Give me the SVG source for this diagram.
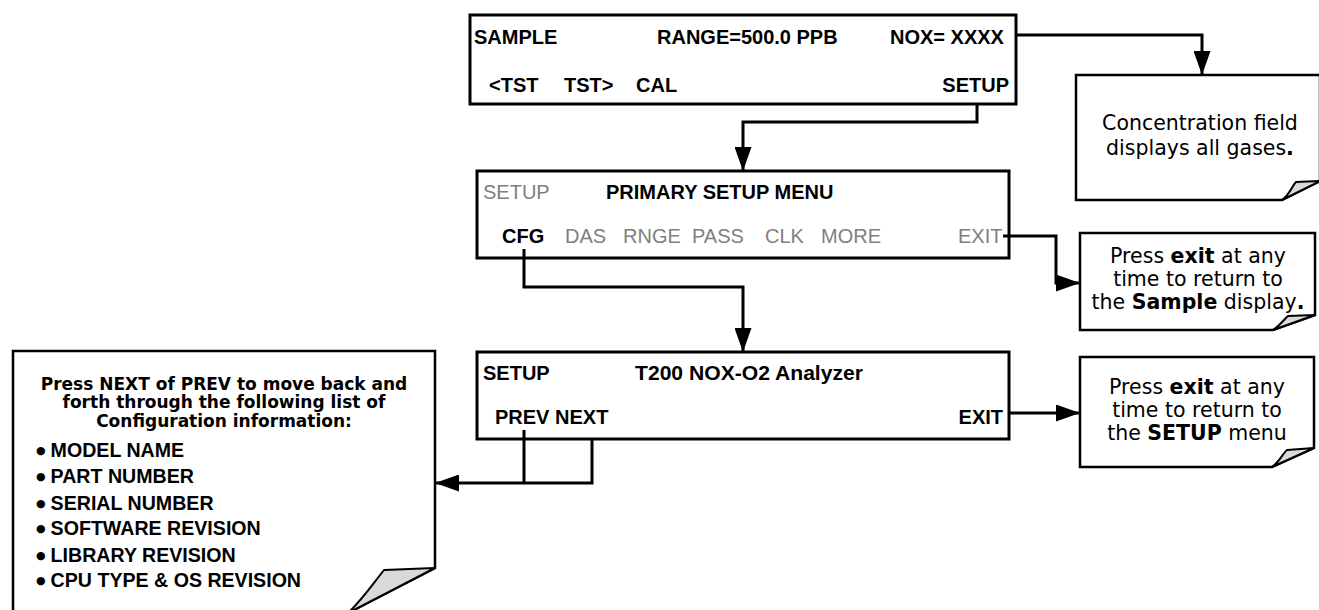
<svg xmlns="http://www.w3.org/2000/svg" width="1319" height="610" viewBox="0 0 1319 610">
<style>
.box{fill:#fff;stroke:#000;stroke-width:3}
.note{fill:#fff;stroke:#000;stroke-width:2.5;stroke-linejoin:miter}
.curl{fill:#d9d9d9;stroke:#000;stroke-width:2;stroke-linejoin:round}
.lcd{font-family:"Liberation Sans",Arial,sans-serif;font-size:20px;fill:#000}
.b{font-weight:bold}
.g{fill:#808080}
.nt{font-family:"DejaVu Sans",Verdana,sans-serif;font-size:20.5px;fill:#000;text-anchor:middle}
.hd{font-family:"DejaVu Sans",Verdana,sans-serif;font-size:17px;font-weight:bold;fill:#000;text-anchor:middle}
.li{font-family:"Liberation Sans",Arial,sans-serif;font-size:19.6px;font-weight:bold;fill:#000}
.bu{font-family:"DejaVu Sans",sans-serif;font-size:11px}
.con{fill:none;stroke:#000;stroke-width:3}
</style>
<defs>
<marker id="arr" markerUnits="userSpaceOnUse" markerWidth="24" markerHeight="17" refX="24" refY="8.5" orient="auto">
<path d="M0,0 L24,8.5 L0,17 Z" fill="#000"/>
</marker>
</defs>

<g id="sample-display">
<rect class="box" x="470" y="15" width="546" height="89"/>
<text class="lcd b" x="474" y="44">SAMPLE</text>
<text class="lcd b" x="657" y="44">RANGE=500.0 PPB</text>
<text class="lcd b" x="890" y="44">NOX= XXXX</text>
<text class="lcd b" x="489" y="92">&lt;TST</text>
<text class="lcd b" x="564" y="92">TST&gt;</text>
<text class="lcd b" x="636" y="92">CAL</text>
<text class="lcd b" x="1009" y="92" text-anchor="end">SETUP</text>
</g>

<g id="primary-setup">
<rect class="box" x="477" y="171" width="532" height="87"/>
<text class="lcd g" x="483" y="199">SETUP</text>
<text class="lcd b" x="606" y="199">PRIMARY SETUP MENU</text>
<text class="lcd b" x="502" y="243">CFG</text>
<text class="lcd g" x="565" y="243">DAS</text>
<text class="lcd g" x="623" y="243">RNGE</text>
<text class="lcd g" x="692" y="243">PASS</text>
<text class="lcd g" x="765" y="243">CLK</text>
<text class="lcd g" x="821" y="243">MORE</text>
<text class="lcd g" x="958" y="243">EXIT</text>
</g>

<g id="t200-setup">
<rect class="box" x="477" y="352" width="532" height="87"/>
<text class="lcd b" x="483" y="380">SETUP</text>
<text class="lcd b" x="635" y="380" textLength="228" lengthAdjust="spacingAndGlyphs">T200 NOX-O2 Analyzer</text>
<text class="lcd b" x="495" y="424">PREV NEXT</text>
<text class="lcd b" x="1003" y="424" text-anchor="end">EXIT</text>
</g>

<g id="note-concentration">
<path class="note" d="M1076,75 H1320 V181 L1282,200 H1076 Z"/>
<path class="curl" d="M1282,200 C1290,194 1292,186 1296,182 L1320,181 Z"/>
<text class="nt" x="1200" y="130">Concentration field</text>
<text class="nt" x="1200" y="155">displays all gases<tspan font-weight="bold">.</tspan></text>
</g>

<g id="note-exit-sample">
<path class="note" d="M1080,233 H1315 V315 L1273,330 H1080 Z"/>
<path class="curl" d="M1273,330 C1281,325 1284,319 1288,316 L1315,315 Z"/>
<text class="nt" x="1198" y="263">Press <tspan font-weight="bold">exit</tspan> at any</text>
<text class="nt" x="1198" y="286">time to return to</text>
<text class="nt" x="1198" y="309">the <tspan font-weight="bold">Sample</tspan> display<tspan font-weight="bold">.</tspan></text>
</g>

<g id="note-exit-setup">
<path class="note" d="M1080,357 H1314 V448 L1272,467 H1080 Z"/>
<path class="curl" d="M1272,467 C1280,461 1283,453 1287,450 L1314,448 Z"/>
<text class="nt" x="1197" y="394">Press <tspan font-weight="bold">exit</tspan> at any</text>
<text class="nt" x="1197" y="417">time to return to</text>
<text class="nt" x="1197" y="440">the <tspan font-weight="bold">SETUP</tspan> menu</text>
</g>

<g id="note-config-list">
<path class="note" d="M13,351 H435 V568 L348,613 H13 Z"/>
<path class="curl" d="M348,613 C362,600 372,585 384,570 L435,568 Z"/>
<text class="hd" x="224" y="390">Press NEXT of PREV to move back and</text>
<text class="hd" x="224" y="408">forth through the following list of</text>
<text class="hd" x="224" y="427">Configuration information:</text>
<text class="li" x="36" y="457"><tspan class="bu" dy="-3">●</tspan><tspan dx="5" dy="3">MODEL NAME</tspan></text>
<text class="li" x="36" y="483"><tspan class="bu" dy="-3">●</tspan><tspan dx="5" dy="3">PART NUMBER</tspan></text>
<text class="li" x="36" y="510"><tspan class="bu" dy="-3">●</tspan><tspan dx="5" dy="3">SERIAL NUMBER</tspan></text>
<text class="li" x="36" y="535"><tspan class="bu" dy="-3">●</tspan><tspan dx="5" dy="3">SOFTWARE REVISION</tspan></text>
<text class="li" x="36" y="562"><tspan class="bu" dy="-3">●</tspan><tspan dx="5" dy="3">LIBRARY REVISION</tspan></text>
<text class="li" x="36" y="587"><tspan class="bu" dy="-3">●</tspan><tspan dx="5" dy="3">CPU TYPE &amp; OS REVISION</tspan></text>
</g>

<g id="connectors">
<path class="con" d="M1016,35 H1202 V75" marker-end="url(#arr)"/>
<path class="con" d="M977,104 V122 H743 V171" marker-end="url(#arr)"/>
<path class="con" d="M524,249 V287 H743 V352" marker-end="url(#arr)"/>
<path class="con" d="M1003,236 H1056 V283 H1080" marker-end="url(#arr)"/>
<path class="con" d="M1009,413 H1080" marker-end="url(#arr)"/>
<path class="con" d="M524,430 V483"/>
<path class="con" d="M592,439 V483 H435" marker-end="url(#arr)"/>
</g>
</svg>
